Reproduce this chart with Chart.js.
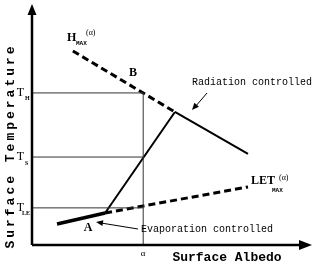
<!DOCTYPE html>
<html>
<head>
<meta charset="utf-8">
<script src="https://cdn.jsdelivr.net/npm/chart.js@4"></script>
<style>
  html, body { margin: 0; padding: 0; background: #fff; }
  #wrap { width: 315px; height: 263px; }
</style>
</head>
<body>
<div id="wrap"><canvas id="chart" width="315" height="263"></canvas></div>
<script>
// valeurs (albedo / temperature, echelle 0..1)
const alpha = 0.40;
const tempLevels = [0.154, 0.365, 0.631];
const tempNames = ['LE', 'S', 'H'];

// H_MAX(alpha) en tirets
const hmaxX = [0.147, 0.514];
const hmaxY = [0.805, 0.552];
// regime radiation (plein)
const radX = [0.514, 0.777];
const radY = [0.552, 0.378];
// montee entre A et B
const riseX = [0.263, 0.514];
const riseY = [0.133, 0.552];
// regime evaporation (trait epais)
const evapX = [0.090, 0.263];
const evapY = [0.087, 0.133];
// LET_MAX(alpha) en tirets
const letX = [0.263, 0.777];
const letY = [0.133, 0.241];

function pts(xs, ys) { return xs.map((x, i) => ({ x: x, y: ys[i] })); }

function seg(data, width, dash) {
  return {
    data: data, showLine: true, borderColor: '#000', borderWidth: width,
    borderDash: dash || [], pointRadius: 0, borderCapStyle: 'butt'
  };
}

const guides = tempLevels.map(t => {
  let d = seg([{ x: 0, y: t }, { x: alpha, y: t }], 1);
  d.borderColor = '#333';
  return d;
});
let vGuide = seg([{ x: alpha, y: 0 }, { x: alpha, y: tempLevels[2] }], 1);
vGuide.borderColor = '#333';

function arrowHead(c, x1, y1, x2, y2, len, half) {
  let a = Math.atan2(y2 - y1, x2 - x1);
  c.beginPath();
  c.moveTo(x2, y2);
  c.lineTo(x2 - len * Math.cos(a) + half * Math.sin(a), y2 - len * Math.sin(a) - half * Math.cos(a));
  c.lineTo(x2 - len * Math.cos(a) - half * Math.sin(a), y2 - len * Math.sin(a) + half * Math.cos(a));
  c.closePath();
  c.fill();
}

// axes, fleches et textes
const decor = {
  id: 'decor',
  afterDatasetsDraw(chart) {
    const c = chart.ctx, xs = chart.scales.x, ys = chart.scales.y;
    const x0 = xs.getPixelForValue(0), y0 = ys.getPixelForValue(0);
    const xEnd = xs.getPixelForValue(1), yEnd = ys.getPixelForValue(1);
    c.save();
    c.fillStyle = '#000'; c.strokeStyle = '#000';

    // axes
    c.lineWidth = 2.5;
    c.beginPath();
    c.moveTo(x0, y0); c.lineTo(x0, yEnd + 8);
    c.moveTo(x0, y0); c.lineTo(xEnd - 8, y0);
    c.stroke();
    arrowHead(c, x0, y0, x0, yEnd, 11, 4.5);
    arrowHead(c, x0, y0, xEnd + 2, y0, 13, 5);

    // titres
    c.font = 'bold 13px "Liberation Mono"';
    c.textAlign = 'center'; c.textBaseline = 'middle';
    c.fillText('Surface Albedo', 227, 258);
    c.save();
    c.translate(11, 146);
    c.rotate(-Math.PI / 2);
    c.letterSpacing = '3px';
    c.fillText('Surface Temperature', 0, 0);
    c.restore();

    // alpha sous l'axe
    c.font = '9px "Liberation Serif"';
    c.fillText('\u03b1', xs.getPixelForValue(alpha), 254);

    // T_LE, T_S, T_H
    tempLevels.forEach((t, i) => {
      let py = ys.getPixelForValue(t);
      c.textAlign = 'right';
      c.font = '12px "Liberation Serif"';
      c.fillText('T', 24, py);
      c.textAlign = 'left';
      c.font = 'bold 6px "Liberation Serif"';
      c.fillText(tempNames[i], tempNames[i].length > 1 ? 22 : 25, py + 6);
    });

    // H_MAX(alpha)
    c.textAlign = 'left';
    c.font = 'bold 12px "Liberation Serif"';
    c.fillText('H', 67, 38);
    c.font = 'bold 6px "Liberation Mono"';
    c.fillText('MAX', 76, 43);
    c.font = '8px "Liberation Serif"';
    c.fillText('(\u03b1)', 86, 33);

    // LET_MAX(alpha)
    c.font = 'bold 12px "Liberation Serif"';
    c.fillText('LET', 251, 181);
    c.font = 'bold 6px "Liberation Mono"';
    c.fillText('MAX', 272, 190);
    c.font = '8px "Liberation Serif"';
    c.fillText('(\u03b1)', 279, 178);

    // A, B
    c.textAlign = 'center';
    c.font = 'bold 12px "Liberation Serif"';
    c.fillText('A', 88, 228);
    c.fillText('B', 133, 73);

    // annotations
    c.textAlign = 'left';
    c.font = '10px "Liberation Mono"';
    c.fillText('Radiation controlled', 192, 82);
    c.fillText('Evaporation controlled', 141, 229);
    c.lineWidth = 1;
    c.beginPath();
    c.moveTo(207, 93); c.lineTo(195, 107);
    c.moveTo(138, 229); c.lineTo(101, 223);
    c.stroke();
    arrowHead(c, 207, 93, 192, 110, 7, 3);
    arrowHead(c, 138, 229, 96, 222, 7, 3);
    c.restore();
  }
};

new Chart(document.getElementById('chart'), {
  type: 'scatter',
  data: {
    datasets: guides.concat([
      vGuide,
      seg(pts(hmaxX, hmaxY), 3, [7, 4]),
      seg(pts(radX, radY), 2),
      seg(pts(riseX, riseY), 2),
      seg(pts(evapX, evapY), 3.5),
      seg(pts(letX, letY), 3, [7, 4])
    ])
  },
  options: {
    responsive: false,
    animation: false,
    layout: { padding: { left: 32, right: 5, top: 4, bottom: 18 } },
    plugins: { legend: { display: false }, tooltip: { enabled: false } },
    scales: {
      x: { type: 'linear', min: 0, max: 1, display: false },
      y: { type: 'linear', min: 0, max: 1, display: false }
    }
  },
  plugins: [decor]
});
</script>
</body>
</html>
